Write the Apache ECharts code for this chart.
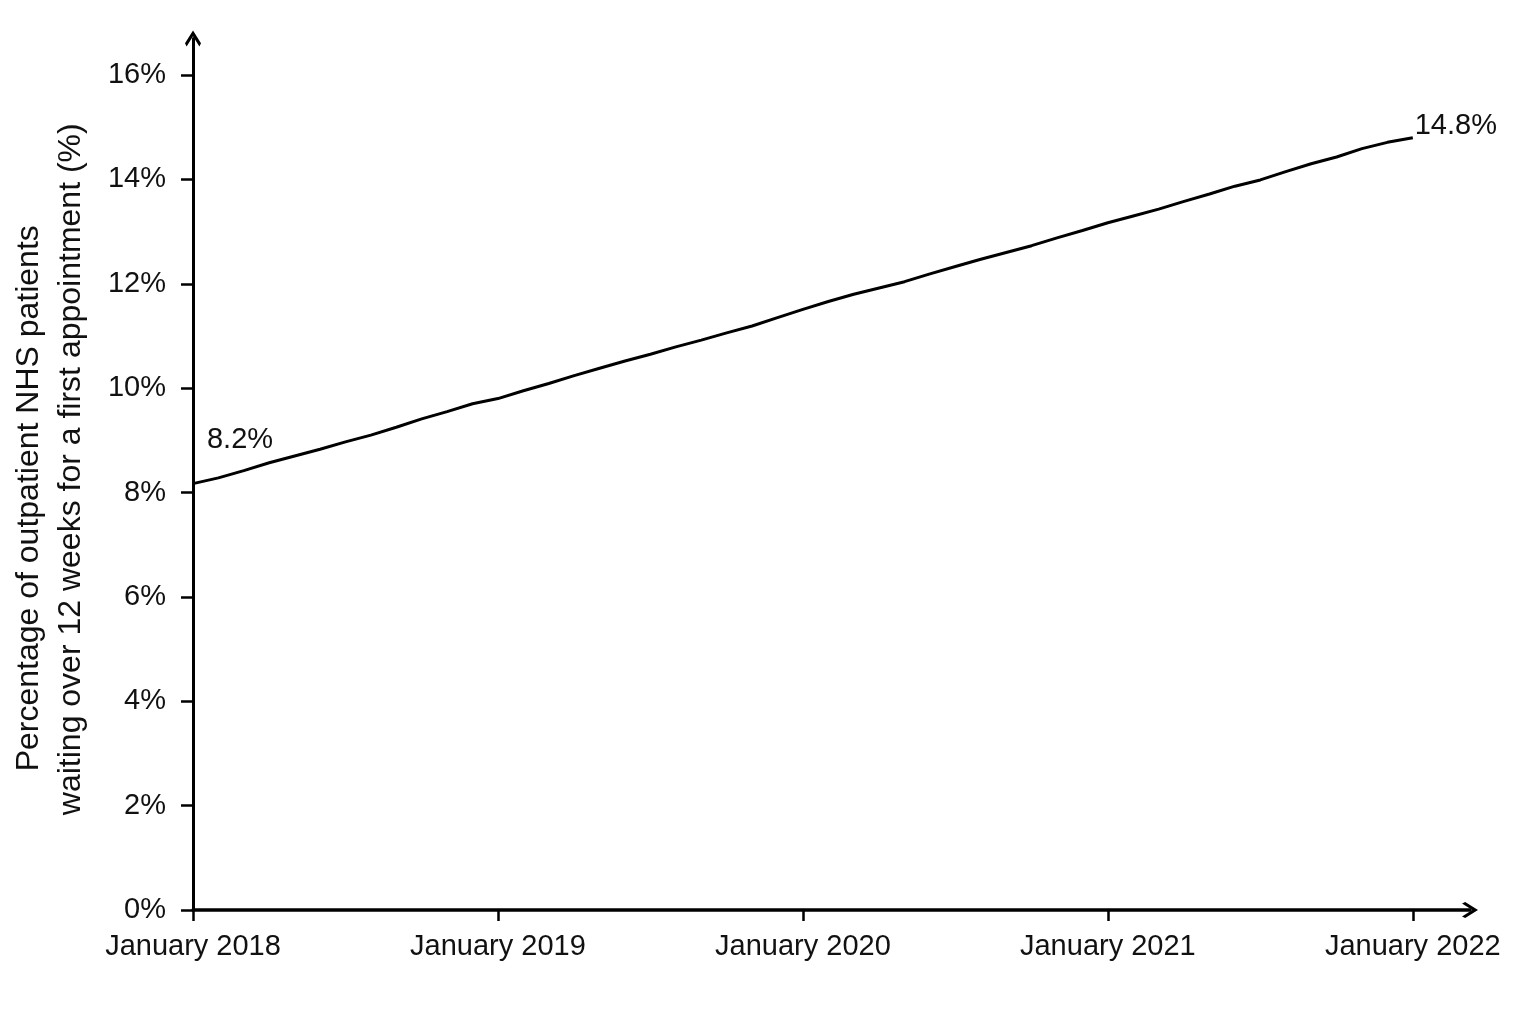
<!DOCTYPE html>
<html>
<head>
<meta charset="utf-8">
<script src="https://cdn.jsdelivr.net/npm/echarts@6/dist/echarts.min.js"></script>
<style>
html,body{margin:0;padding:0;background:#fff;}
#chart{width:1536px;height:1024px;}
</style>
</head>
<body>
<div id="chart"></div>
<script>
// Monthly share of outpatients waiting >12 weeks, Jan 2018 .. Jan 2022 (month index 0..48)
const monthValues = [
  8.17, 8.28, 8.42, 8.57, 8.70, 8.83, 8.97, 9.10, 9.25, 9.41, 9.55, 9.70,
  9.80, 9.95, 10.09, 10.24, 10.38, 10.52, 10.65, 10.79, 10.92, 11.06, 11.19, 11.35,
  11.51, 11.66, 11.80, 11.92, 12.04, 12.19, 12.33, 12.47, 12.60, 12.73, 12.88, 13.02,
  13.17, 13.30, 13.43, 13.58, 13.72, 13.87, 13.99, 14.15, 14.30, 14.43, 14.59, 14.71,
  14.80
];
const xTickMonths = [0, 12, 24, 36, 48];
const xTickLabels = ['January 2018', 'January 2019', 'January 2020', 'January 2021', 'January 2022'];
const yTicks = [0, 2, 4, 6, 8, 10, 12, 14, 16];
const yTitleLine1 = 'Percentage of outpatient NHS patients';
const yTitleLine2 = 'waiting over 12 weeks for a first appointment (%)';

const regular = "'Liberation Sans', Arial, Helvetica, sans-serif";
const chevron = 'path://M50,0 L100,80 L90,100 L50,36 L10,100 L0,80 Z';

const seriesData = monthValues.map((v, i) => [i, v]);
const lastIdx = monthValues.length - 1;

const chart = echarts.init(document.getElementById('chart'));
chart.setOption({
  animation: false,
  backgroundColor: '#fff',
  grid: { left: 192, right: 66, top: 38.5, bottom: 114, containLabel: false },
  xAxis: {
    type: 'value',
    min: 0,
    max: 50.25,
    splitLine: { show: false },
    axisLine: {
      show: true,
      lineStyle: { color: '#000', width: 3.5 },
      symbol: ['none', chevron],
      symbolSize: [19, 16]
    },
    axisTick: {
      show: true, length: 11, inside: false,
      lineStyle: { color: '#000', width: 2.5 },
      customValues: xTickMonths
    },
    axisLabel: {
      customValues: xTickMonths,
      formatter: v => xTickLabels[xTickMonths.indexOf(Math.round(v))] || '',
      color: '#111', fontSize: 29, fontFamily: regular, margin: 22
    }
  },
  yAxis: {
    type: 'value',
    min: 0,
    max: 16.7,
    splitLine: { show: false },
    axisLine: {
      show: true,
      lineStyle: { color: '#000', width: 3 },
      symbol: ['none', chevron],
      symbolSize: [19, 16]
    },
    axisTick: {
      show: true, length: 12,
      lineStyle: { color: '#000', width: 2.5 },
      customValues: yTicks
    },
    axisLabel: {
      customValues: yTicks,
      formatter: v => v + '%',
      color: '#111', fontSize: 29, fontFamily: regular, margin: 27
    },
    name: '{a|' + yTitleLine1 + '}\n{b|' + yTitleLine2 + '}',
    nameLocation: 'middle',
    nameRotate: 90,
    nameGap: 101,
    nameTextStyle: {
      color: '#111', fontFamily: regular, fontSize: 32, lineHeight: 42,
      rich: {
        a: { color: '#111', fontFamily: regular, fontSize: 32, lineHeight: 42, padding: [0, 48, 0, 0] },
        b: { color: '#111', fontFamily: regular, fontSize: 32, lineHeight: 42, padding: [0, 0, 0, 10] }
      }
    }
  },
  series: [{
    type: 'line',
    data: seriesData,
    symbol: 'none',
    lineStyle: { color: '#000', width: 3 },
    z: 5,
    markPoint: {
      symbol: 'circle',
      symbolSize: 1,
      itemStyle: { color: 'rgba(0,0,0,0)' },
      label: {
        show: true, color: '#111', fontSize: 29, fontFamily: regular,
        formatter: p => p.value.toFixed(1) + '%'
      },
      data: [
        { coord: [0, monthValues[0]], value: monthValues[0], label: { position: 'inside', offset: [47, -44] } },
        { coord: [lastIdx, monthValues[lastIdx]], value: monthValues[lastIdx], label: { position: 'inside', offset: [43, -12] } }
      ]
    }
  }]
});
</script>
</body>
</html>
